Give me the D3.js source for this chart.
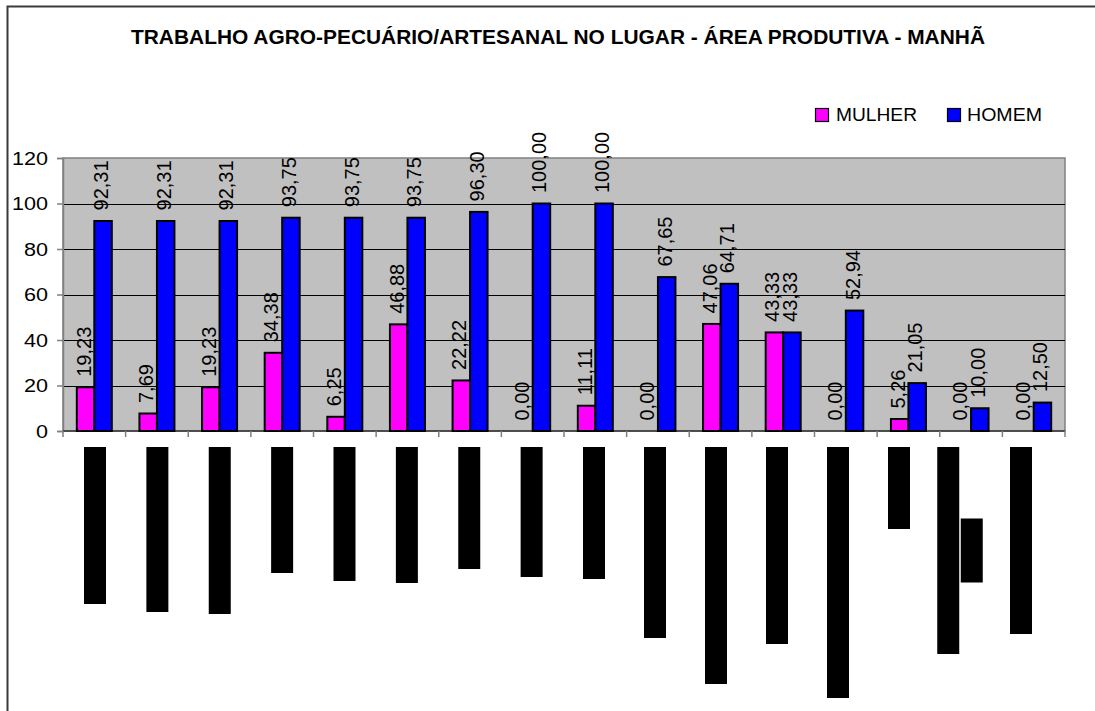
<!DOCTYPE html>
<html>
<head>
<meta charset="utf-8">
<script src="https://cdn.jsdelivr.net/npm/d3@7"></script>
<style>
  html, body { margin: 0; padding: 0; background: #ffffff; }
  svg { display: block; font-family: "Liberation Sans", Arial, sans-serif; }
</style>
</head>
<body>
<svg id="chart" width="1095" height="711"></svg>
<script>
// Chart content
const chartTitle = "TRABALHO AGRO-PECUÁRIO/ARTESANAL NO LUGAR - ÁREA PRODUTIVA - MANHÃ";
const seriesNames = ["MULHER", "HOMEM"];
const seriesColors = ["#FF00FF", "#0000FF"];
const categories = d3.range(1, 17).map(String);
const mulher = [19.23, 7.69, 19.23, 34.38, 6.25, 46.88, 22.22, 0.00, 11.11, 0.00, 47.06, 43.33, 0.00, 5.26, 0.00, 0.00];
const homem  = [92.31, 92.31, 92.31, 93.75, 93.75, 93.75, 96.30, 100.00, 100.00, 67.65, 64.71, 43.33, 52.94, 21.05, 10.00, 12.50];
const yTicks = [0, 20, 40, 60, 80, 100, 120];
// Category labels are blacked out; each entry lists the extent of every label line
const categoryLabelSpans = [[157], [165], [167], [126], [134], [136], [122], [130], [132], [191], [237], [197], [251], [82], [207, 64], [187]];

const svg = d3.select("#chart");

// Plot area
const plot = { left: 63, right: 1065, top: 158, bottom: 431 };

const x = d3.scaleBand().domain(categories).range([plot.left, plot.right]).paddingInner(0).paddingOuter(0);
const y = d3.scaleLinear().domain([0, 120]).range([plot.bottom, plot.top]);
const barW = 17.5;
const series = [mulher, homem];
const fmt = v => d3.format(".2f")(v).replace(".", ",");

// Outer frame
svg.append("rect")
  .attr("x", 7.5).attr("y", 6.5)
  .attr("width", 1200).attr("height", 800)
  .attr("fill", "none").attr("stroke", "#3a3a3a").attr("stroke-width", 2);

// Title
svg.append("text")
  .attr("x", 558).attr("y", 44)
  .attr("text-anchor", "middle")
  .attr("font-size", 20).attr("font-weight", "bold")
  .attr("textLength", 854).attr("lengthAdjust", "spacingAndGlyphs")
  .text(chartTitle);

// Legend
const legendItems = [
  { sx: 815, tx: 836, tw: 81 },
  { sx: 947, tx: 967, tw: 75 }
];
legendItems.forEach((it, i) => {
  svg.append("rect")
    .attr("x", it.sx + 0.5).attr("y", 108.5)
    .attr("width", 13).attr("height", 13)
    .attr("fill", seriesColors[i]).attr("stroke", "#000").attr("stroke-width", 1.2);
  svg.append("text")
    .attr("x", it.tx).attr("y", 121)
    .attr("font-size", 19)
    .attr("textLength", it.tw).attr("lengthAdjust", "spacingAndGlyphs")
    .text(seriesNames[i]);
});

// Plot background
svg.append("rect")
  .attr("x", plot.left).attr("y", plot.top)
  .attr("width", plot.right - plot.left).attr("height", plot.bottom - plot.top)
  .attr("fill", "#C0C0C0").attr("stroke", "#808080").attr("stroke-width", 1.5);

// Gridlines
svg.append("g")
  .selectAll("line")
  .data(yTicks.filter(t => t > 0 && t < 120))
  .join("line")
  .attr("x1", plot.left).attr("x2", plot.right)
  .attr("y1", d => Math.round(y(d)) + 0.5).attr("y2", d => Math.round(y(d)) + 0.5)
  .attr("stroke", "#000").attr("stroke-width", 1);

// Y axis
const yAxis = svg.append("g")
  .attr("transform", `translate(${plot.left},0)`)
  .call(d3.axisLeft(y).tickValues(yTicks).tickSize(6).tickPadding(9).tickFormat(d3.format("d")));
yAxis.select(".domain").attr("stroke", "#808080").attr("stroke-width", 1.5);
yAxis.selectAll(".tick line").attr("stroke", "#808080").attr("stroke-width", 1.5);
yAxis.selectAll(".tick text")
  .attr("font-size", 19).attr("fill", "#000")
  .attr("font-family", "Liberation Sans, Arial, sans-serif")
  .attr("textLength", d => String(d).length * 12)
  .attr("lengthAdjust", "spacingAndGlyphs");

// X axis: category boundary ticks only
const xAxis = svg.append("g").attr("transform", `translate(0,${plot.bottom})`);
xAxis.append("line")
  .attr("x1", plot.left).attr("x2", plot.right)
  .attr("y1", 0).attr("y2", 0)
  .attr("stroke", "#333").attr("stroke-width", 1.5);
xAxis.selectAll("line.tick")
  .data(categories.map(c => x(c)).concat([plot.right]))
  .join("line").attr("class", "tick")
  .attr("x1", d => d).attr("x2", d => d)
  .attr("y1", 0).attr("y2", 6)
  .attr("stroke", "#808080").attr("stroke-width", 1.5);

// Bars
const barGroup = svg.append("g");
series.forEach((vals, si) => {
  barGroup.selectAll(`rect.s${si}`)
    .data(vals)
    .join("rect").attr("class", `s${si}`)
    .attr("x", (d, i) => x(categories[i]) + x.bandwidth() / 2 - barW + si * barW)
    .attr("y", d => y(d))
    .attr("width", barW)
    .attr("height", d => y(0) - y(d))
    .attr("fill", seriesColors[si])
    .attr("stroke", "#000").attr("stroke-width", 2);
});

// Value labels (rotated)
series.forEach((vals, si) => {
  svg.append("g").selectAll("text")
    .data(vals)
    .join("text")
    .attr("transform", (d, i) => {
      const cx = x(categories[i]) + x.bandwidth() / 2 - barW + si * barW + barW / 2 + 5;
      return `translate(${cx},${y(d) - 10.5}) rotate(-90)`;
    })
    .attr("font-size", 20)
    .attr("fill", "#000")
    .text(d => fmt(d));
});

// Category labels (blacked out blocks, one per label line)
const labelX = d3.scaleLinear().domain([0, 8, 15]).range([95, 594, 1021]);
const lineW = 22, lineGap = 23.5, labelTop = 447;
const labelGroup = svg.append("g");
categoryLabelSpans.forEach((lines, i) => {
  const maxLen = d3.max(lines);
  const cx0 = labelX(i) - (lines.length - 1) * lineGap / 2;
  labelGroup.selectAll(null)
    .data(lines)
    .join("rect")
    .attr("x", (d, j) => cx0 + j * lineGap - lineW / 2)
    .attr("y", d => labelTop + (maxLen - d) / 2)
    .attr("width", lineW)
    .attr("height", d => d)
    .attr("fill", "#000");
});
</script>
</body>
</html>
